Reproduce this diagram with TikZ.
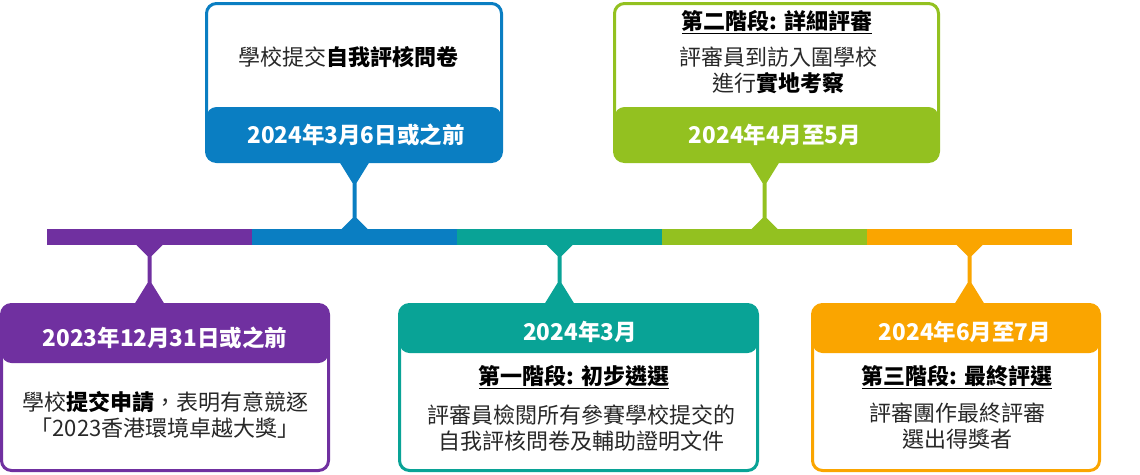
\documentclass[tikz,border=0pt]{standalone}
\usepackage{fontspec}
\setmainfont{Noto Sans CJK TC}[Script=CJK,Language=Chinese Traditional]
\usetikzlibrary{calc}

\definecolor{tlpurple}{RGB}{112,48,160}
\definecolor{tlblue}{RGB}{10,126,194}
\definecolor{tlteal}{RGB}{9,163,150}
\definecolor{tlgreen}{RGB}{147,193,32}
\definecolor{tlorange}{RGB}{250,165,0}
\definecolor{tltext}{RGB}{40,40,40}

\tikzset{
  seg/.style={rectangle,minimum width=205pt,minimum height=16pt,inner sep=0pt,outer sep=0pt},
  card/.style={draw=#1,line width=3pt,rounded corners=10pt,fill=white,inner sep=0pt},
  headdown/.style 2 args={path picture={\fill[#1] (path picture bounding box.north west) rectangle ([yshift=-#2]path picture bounding box.north east);}},
  headup/.style 2 args={path picture={\fill[#1] (path picture bounding box.south west) rectangle ([yshift=#2]path picture bounding box.south east);}},
  date/.style={font=\bfseries\fontsize{22.5}{26}\selectfont,text=white,inner sep=0pt},
  body/.style={font=\fontsize{22}{26}\selectfont,text=tltext,align=center,inner sep=0pt},
  stage/.style={font=\bfseries\fontsize{22}{26}\selectfont,text=black,inner sep=0pt}
}

\begin{document}
\begin{tikzpicture}[x=1pt,y=-1pt]
  \useasboundingbox (0,0) rectangle (1140,474);

  % timeline bar
  \foreach \n/\x/\c in {s1/149.5/tlpurple,s2/354.5/tlblue,s3/559.5/tlteal,s4/764.5/tlgreen,s5/969.5/tlorange}
    \node[seg,fill=\c] (\n) at (\x,237) {};

  % cards
  \node[card=tlpurple,headdown={tlpurple}{58.5pt},minimum width=327pt,minimum height=166pt] (b1) at (165,387.5) {};
  \node[card=tlblue,headup={tlblue}{54.5pt},minimum width=295pt,minimum height=158pt] (b2) at (354,82.5) {};
  \node[card=tlteal,headdown={tlteal}{48.5pt},minimum width=358pt,minimum height=166pt] (b3) at (578.5,387.5) {};
  \node[card=tlgreen,headup={tlgreen}{54.5pt},minimum width=324pt,minimum height=158pt] (b4) at (776.5,82.5) {};
  \node[card=tlorange,headdown={tlorange}{48.5pt},minimum width=287pt,minimum height=166pt] (b5) at (956,387.5) {};

  % stems from bar to cards
  \foreach \s/\b/\c/\a/\e/\d in {s1/b1/tlpurple/south/north/1,s2/b2/tlblue/north/south/-1,
      s3/b3/tlteal/south/north/1,s4/b4/tlgreen/north/south/-1,s5/b5/tlorange/south/north/1}
    \fill[\c] ($(\s.\a)+(-13,0)$) -- ($(\s.\a)+(-2,\d*11)$) -- ($(\s.\a |- \b.\e)+(-2,-\d*20)$)
      -- ($(\s.\a |- \b.\e)+(-15,\d*1)$) -- ($(\s.\a |- \b.\e)+(15,\d*1)$)
      -- ($(\s.\a |- \b.\e)+(2,-\d*20)$) -- ($(\s.\a)+(2,\d*11)$) -- ($(\s.\a)+(13,0)$) -- cycle;

  % texts
  \node[date] (d1) at (165,338) {2023年12月31日或之前};
  \node[body] (t1) at (165,415) {學校\textbf{\color{black}提交申請}，表明有意競逐\\「2023香港環境卓越大獎」};

  \node[body] (t2) at (348,57) {學校提交\textbf{\color{black}自我評核問卷}};
  \node[date] (d2) at (356,135) {2024年3月6日或之前};

  \node[date] (d3) at (580,332) {2024年3月};
  \node[stage] (h3) at (574,377) {\underline{第一階段: 初步遴選}};
  \node[body] (t3) at (581,428.5) {評審員檢閱所有參賽學校提交的\\自我評核問卷及輔助證明文件};

  \node[stage] (h4) at (777,22) {\underline{第二階段: 詳細評審}};
  \node[body] (t4) at (778,70.5) {評審員到訪入圍學校\\進行\textbf{\color{black}實地考察}};
  \node[date] (d4) at (775,135) {2024年4月至5月};

  \node[date] (d5) at (965,332) {2024年6月至7月};
  \node[stage] (h5) at (957,377) {\underline{第三階段: 最終評選}};
  \node[body] (t5) at (957,426.5) {評審團作最終評審\\選出得獎者};
\end{tikzpicture}
\end{document}
